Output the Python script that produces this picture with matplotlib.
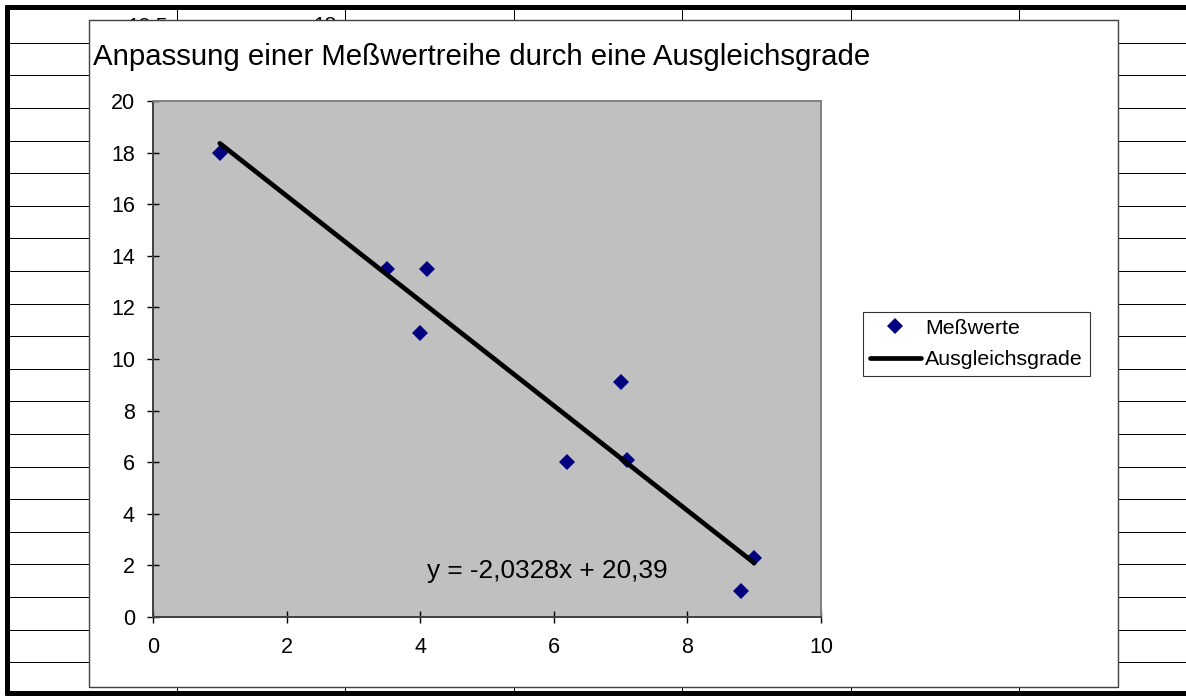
import matplotlib
matplotlib.use("Agg")
import matplotlib.pyplot as plt
from matplotlib.patches import Rectangle
import numpy as np

plt.rcParams['font.family'] = ['Liberation Sans', 'DejaVu Sans']

# Messwerte
x_vals = [1.0, 3.5, 4.0, 4.1, 6.2, 7.0, 7.1, 8.8, 9.0]
y_vals = [18.0, 13.5, 11.0, 13.5, 6.0, 9.1, 6.1, 1.0, 2.3]

# Ausgleichsgrade y = m*x + b
slope = -2.0328
intercept = 20.39
fit_x = [1.0, 9.0]

title = "Anpassung einer Meßwertreihe durch eine Ausgleichsgrade"
equation = "y = -2,0328x + 20,39"
series_labels = ["Meßwerte", "Ausgleichsgrade"]
x_ticks = [0, 2, 4, 6, 8, 10]
y_ticks = [0, 2, 4, 6, 8, 10, 12, 14, 16, 18, 20]
cell_texts = ["18,5", "18"]

W, H = 1186, 696
fig = plt.figure(figsize=(W / 100, H / 100), dpi=100)
fig.patch.set_facecolor("white")

# spreadsheet background in pixel coordinates
bg = fig.add_axes([0, 0, 1, 1])
bg.set_xlim(0, W)
bg.set_ylim(H, 0)
bg.axis("off")

px = 0.72
for k in range(20):
    yy = 42.7 + 32.6 * k
    bg.plot([7, W], [yy, yy], color="black", lw=px, zorder=1)
for k in range(6):
    xx = 177 + 168.4 * k
    bg.plot([xx, xx], [7, 692], color="black", lw=px, zorder=1)
# thick sheet border
bg.plot([5, W], [7, 7], color="black", lw=3.6, zorder=2, solid_capstyle="butt")
bg.plot([7, 7], [5, 695], color="black", lw=3.6, zorder=2, solid_capstyle="butt")
bg.plot([5, W], [692.5, 692.5], color="black", lw=3.6, zorder=2, solid_capstyle="butt")

# cell contents peeking above the chart
bg.text(168, 31, cell_texts[0], ha="right", va="baseline", fontsize=15, zorder=3)
bg.text(337, 31, cell_texts[1], ha="right", va="baseline", fontsize=15, zorder=3)

# chart object
bg.add_patch(Rectangle((89, 20), 1118 - 89, 687 - 20, facecolor="white",
                       edgecolor="#404040", lw=1.0, zorder=5))
bg.text(93, 65, title, ha="left", va="baseline", fontsize=21.2, zorder=6)

# plot area
left, right, top, bottom = 153, 821, 101, 617
ax = fig.add_axes([left / W, (H - bottom) / H, (right - left) / W, (bottom - top) / H])
ax.set_zorder(10)
ax.set_facecolor("#C0C0C0")
ax.set_xlim(0, 10)
ax.set_ylim(0, 20)
ax.set_xticks(x_ticks)
ax.set_yticks(y_ticks)
ax.set_xticklabels([str(t) for t in x_ticks])
ax.set_yticklabels([str(t) for t in y_ticks])
ax.tick_params(direction="inout", length=9, width=1.0, color="black",
               labelsize=15.5)
ax.tick_params(axis="y", pad=8.5)
ax.tick_params(axis="x", pad=10)
for side in ["left", "bottom"]:
    ax.spines[side].set_color("#404040")
    ax.spines[side].set_linewidth(1.4)
for side in ["top", "right"]:
    ax.spines[side].set_color("#808080")
    ax.spines[side].set_linewidth(1.4)

ax.plot(x_vals, y_vals, linestyle="none", marker="D", markersize=8.3,
        markerfacecolor="#000080", markeredgewidth=0, zorder=3,
        label=series_labels[0])
fx = np.array(fit_x)
ax.plot(fx, slope * fx + intercept, color="black", lw=3.4,
        solid_capstyle="round", zorder=4, label=series_labels[1])

ax.text(4.1, 1.5, equation, ha="left", va="baseline", fontsize=18.9, zorder=5)

leg = ax.legend(loc="center", bbox_to_anchor=(976.5 / W, 1 - 344 / H),
                bbox_transform=fig.transFigure, fontsize=15.4, frameon=True,
                fancybox=False, edgecolor="black", handlelength=2.4,
                handletextpad=0.2, labelspacing=0.58, borderpad=0.3,
                numpoints=1)
leg.get_frame().set_linewidth(0.8)

fig.savefig("out.png", dpi=100)
